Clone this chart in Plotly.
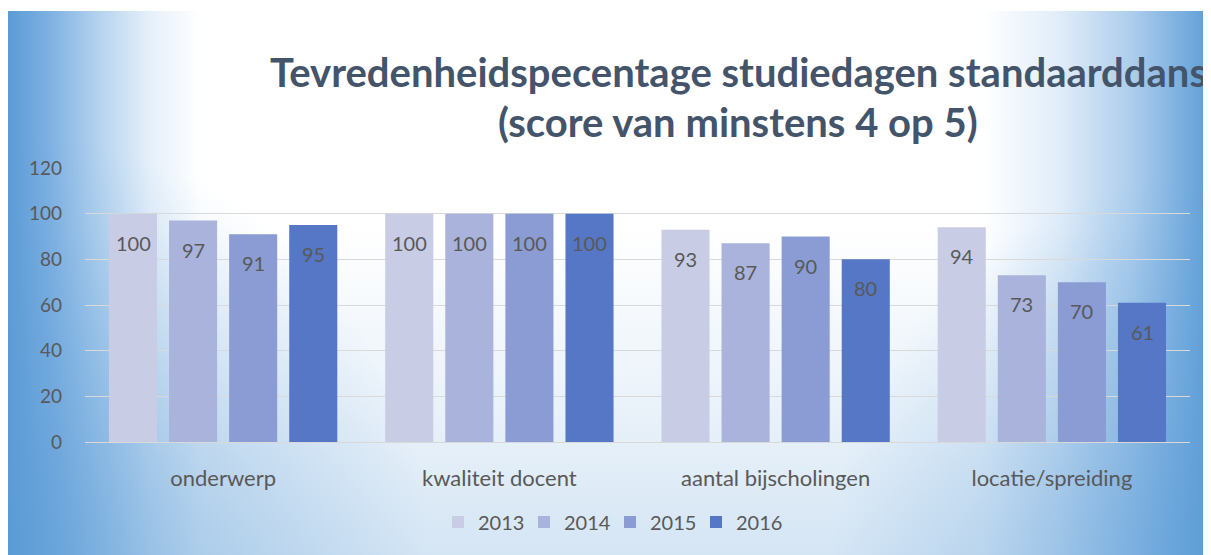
import base64
import plotly.graph_objects as go

categories = ["onderwerp", "kwaliteit docent", "aantal bijscholingen", "locatie/spreiding"]
years = ["2013", "2014", "2015", "2016"]
values = {
    "2013": [100, 100, 93, 94],
    "2014": [97, 100, 87, 73],
    "2015": [91, 100, 90, 70],
    "2016": [95, 100, 80, 61],
}
colors = ["#c9cce5", "#a9b3db", "#8a9cd3", "#5577c6"]
y_ticks = [0, 20, 40, 60, 80, 100, 120]
title_lines = ["Tevredenheidspecentage studiedagen standaarddans", "(score van minstens 4 op 5)"]

# page body has an 8px margin, so the figure starts at (8, 8) in the window
OFF = 8
W, H = 1211 - OFF, 555 - OFF
ML, MR, MT, MB = 85 - OFF, 21, 168 - OFF, 113
PW, PH = W - ML - MR, H - MT - MB
FONT = "Lato, 'Open Sans', sans-serif"
TXT = "#595959"

# background: blue edges fading to a white centre, bluer towards the bottom corners
bw, bh = W, H - 3
svg = f'''<svg xmlns="http://www.w3.org/2000/svg" width="{bw}" height="{bh}" viewBox="0 0 {bw} {bh}" preserveAspectRatio="none">
<defs>
<linearGradient id="h" x1="0" y1="0" x2="1" y2="0">
<stop offset="0" stop-color="#5b9bd5"/>
<stop offset="0.035" stop-color="#7fb1e2"/>
<stop offset="0.076" stop-color="#b5d3ef"/>
<stop offset="0.118" stop-color="#e6f0fa"/>
<stop offset="0.16" stop-color="#ffffff"/>
<stop offset="0.81" stop-color="#ffffff"/>
<stop offset="0.875" stop-color="#e0ecf8"/>
<stop offset="0.935" stop-color="#accdec"/>
<stop offset="1" stop-color="#5d9dd7"/>
</linearGradient>
<linearGradient id="v" x1="0" y1="0" x2="0" y2="1">
<stop offset="0" stop-color="#5b9bd5" stop-opacity="0"/>
<stop offset="0.4" stop-color="#5b9bd5" stop-opacity="0"/>
<stop offset="0.8" stop-color="#5b9bd5" stop-opacity="0.16"/>
<stop offset="1" stop-color="#5b9bd5" stop-opacity="0.26"/>
</linearGradient>
<radialGradient id="bl" gradientUnits="userSpaceOnUse" cx="0" cy="{bh}" r="420">
<stop offset="0" stop-color="#5b9bd5" stop-opacity="0.6"/>
<stop offset="1" stop-color="#5b9bd5" stop-opacity="0"/>
</radialGradient>
<radialGradient id="br" gradientUnits="userSpaceOnUse" cx="{bw}" cy="{bh}" r="380">
<stop offset="0" stop-color="#5b9bd5" stop-opacity="0.55"/>
<stop offset="1" stop-color="#5b9bd5" stop-opacity="0"/>
</radialGradient>
</defs>
<rect x="0" y="0" width="{bw}" height="{bh}" fill="url(#h)"/>
<rect x="0" y="0" width="{bw}" height="{bh}" fill="url(#v)"/>
<rect x="0" y="0" width="{bw}" height="{bh}" fill="url(#bl)"/>
<rect x="0" y="0" width="{bw}" height="{bh}" fill="url(#br)"/>
</svg>'''
src = "data:image/svg+xml;base64," + base64.b64encode(svg.encode()).decode()

fig = go.Figure()
for i, yr in enumerate(years):
    fig.add_trace(go.Bar(
        name=yr, x=categories, y=values[yr],
        marker=dict(color=colors[i], line=dict(width=0)),
        hoverinfo="x+y+name",
    ))

# data labels (inside, a little below the bar top)
n = len(years)
BARGAP = 0.13
cat_w = PW / len(categories)
slot = cat_w * (1 - BARGAP) / n
annotations = []
for i, yr in enumerate(years):
    for c, v in zip(categories, values[yr]):
        annotations.append(dict(
            x=c, y=v, xref="x", yref="y", text=str(v), showarrow=False,
            xshift=(i - (n - 1) / 2) * slot, yshift=-29,
            font=dict(family=FONT, size=20, color=TXT),
        ))

title_cx = (738 - OFF - ML) / PW
for line, ypx in zip(title_lines, [72, 122]):
    annotations.append(dict(
        x=title_cx, y=(H - MB - (ypx - OFF)) / PH, xref="paper", yref="paper",
        text=f"<b>{line}</b>", showarrow=False, xanchor="center", yanchor="middle",
        font=dict(family=FONT, size=40, color="#44546a"),
    ))

fig.update_layout(
    width=W, height=H,
    margin=dict(l=ML, r=MR, t=MT, b=MB, pad=0),
    paper_bgcolor="#ffffff", plot_bgcolor="rgba(0,0,0,0)",
    barmode="group", bargap=BARGAP, bargroupgap=0.2,
    font=dict(family=FONT, size=17, color=TXT),
    showlegend=True,
    legend=dict(orientation="h", xref="container", yref="container",
                x=(610 - OFF) / W, y=1 - (522 - OFF) / H, xanchor="center", yanchor="middle",
                font=dict(family=FONT, size=20, color=TXT), entrywidth=41,
                bgcolor="rgba(0,0,0,0)", itemwidth=30, traceorder="normal"),
    annotations=annotations,
    images=[dict(source=src, xref="paper", yref="paper",
                 x=-ML / PW, y=(H - MB - 3) / PH,
                 sizex=bw / PW, sizey=bh / PH,
                 xanchor="left", yanchor="top", sizing="stretch", layer="below")],
)
fig.update_xaxes(showgrid=False, showline=True, linecolor="#d9d9d9", linewidth=1,
                 ticks="", ticklabelstandoff=17,
                 tickfont=dict(family=FONT, size=22, color=TXT))
fig.update_yaxes(range=[0, 120], tickvals=y_ticks, showgrid=True,
                 gridcolor="#d9d9d9", gridwidth=1, zeroline=False,
                 ticks="", ticklabelstandoff=22,
                 tickfont=dict(family=FONT, size=19, color=TXT))

fig.write_html("out.html")
